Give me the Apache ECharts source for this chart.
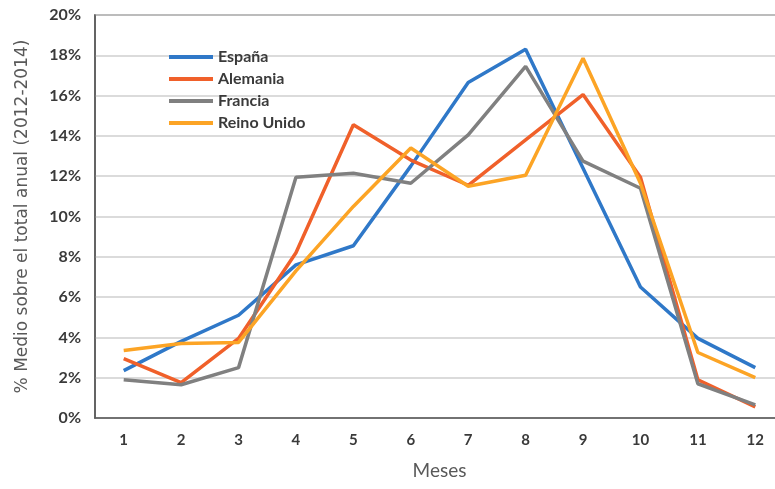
<!DOCTYPE html>
<html>
<head>
<meta charset="utf-8">
<script src="https://cdn.jsdelivr.net/npm/echarts@6/dist/echarts.min.js"></script>
<style>
html, body { margin: 0; padding: 0; background: #fff; }
#chart { width: 775px; height: 489px; }
</style>
</head>
<body>
<div id="chart"></div>
<script>
var meses = ['1', '2', '3', '4', '5', '6', '7', '8', '9', '10', '11', '12'];
var espana = [2.35, 3.8, 5.1, 7.6, 8.55, 12.5, 16.65, 18.3, 12.4, 6.5, 3.95, 2.5];
var alemania = [2.95, 1.75, 3.95, 8.2, 14.55, 12.8, 11.55, 13.8, 16.05, 11.95, 1.9, 0.55];
var francia = [1.9, 1.65, 2.5, 11.95, 12.15, 11.65, 14.05, 17.45, 12.75, 11.4, 1.7, 0.65];
var reinoUnido = [3.35, 3.7, 3.75, 7.3, 10.5, 13.4, 11.5, 12.05, 17.85, 11.65, 3.25, 2.0];

var font = 'Lato, "Open Sans", sans-serif';

function serie(name, data, color) {
	return {
		name: name,
		type: 'line',
		data: data,
		symbol: 'none',
		lineStyle: { width: 3.5, color: color },
		itemStyle: { color: color }
	};
}

var chart = echarts.init(document.getElementById('chart'));
chart.setOption({
	animation: false,
	grid: {
		left: 95, width: 689, top: 15, bottom: 71,
		outerBoundsMode: 'none',
		containLabel: false,
		show: true, borderColor: '#5a5a5a', borderWidth: 1.5
	},
	legend: {
		orient: 'vertical',
		left: 164, top: 44,
		icon: 'rect',
		itemWidth: 44, itemHeight: 4,
		itemGap: 6,
		textStyle: { fontFamily: font, fontSize: 16, fontWeight: 'bold', color: '#3a3a3a' },
		data: ['España', 'Alemania', 'Francia', 'Reino Unido']
	},
	xAxis: {
		type: 'category',
		data: meses,
		boundaryGap: true,
		name: 'Meses',
		nameLocation: 'middle',
		nameGap: 43,
		nameTextStyle: { fontFamily: font, fontSize: 19, color: '#595959' },
		axisLine: { lineStyle: { color: '#5a5a5a', width: 1.5 } },
		axisTick: { show: false },
		axisLabel: { margin: 15, fontFamily: font, fontSize: 15, fontWeight: 'bold', color: '#3a3a3a' }
	},
	yAxis: {
		type: 'value',
		min: 0, max: 20, interval: 2,
		name: '% Medio sobre el total anual (2012-2014)',
		nameLocation: 'middle',
		nameGap: 64,
		nameTextStyle: { fontFamily: '"DejaVu Sans", sans-serif', fontSize: 17, color: '#595959' },
		axisLine: { show: true, lineStyle: { color: '#5a5a5a', width: 1.5 } },
		axisTick: { show: false },
		axisLabel: { margin: 14, formatter: '{value}%', fontFamily: font, fontSize: 16, fontWeight: 'bold', color: '#3a3a3a' },
		splitLine: { lineStyle: { color: '#cfcfcf', width: 1.5 } }
	},
	series: [
		serie('España', espana, '#2f78c8'),
		serie('Alemania', alemania, '#f0602a'),
		serie('Francia', francia, '#808080'),
		serie('Reino Unido', reinoUnido, '#fca425')
	]
});
</script>
</body>
</html>
